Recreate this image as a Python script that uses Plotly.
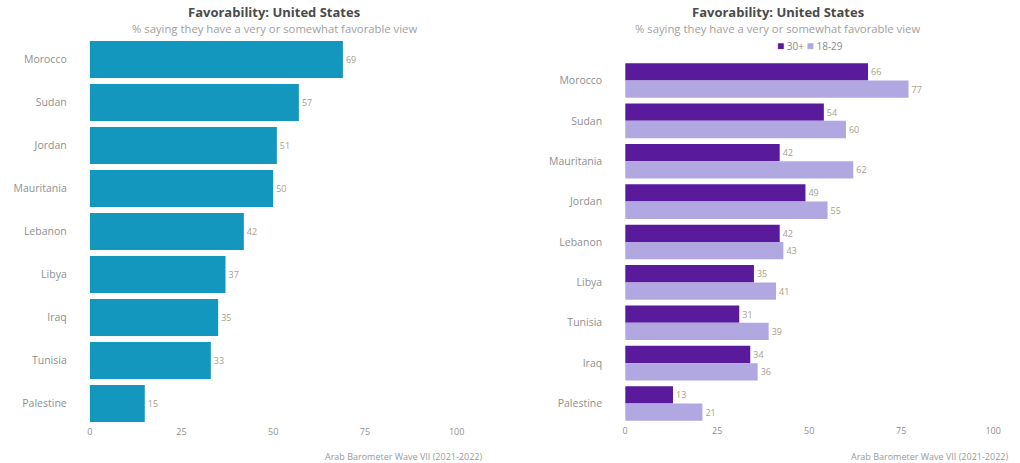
import plotly.graph_objects as go

# Left panel (all ages)
left_countries = ["Morocco", "Sudan", "Jordan", "Mauritania", "Lebanon", "Libya", "Iraq", "Tunisia", "Palestine"]
left_values = [69, 57, 51, 50, 42, 37, 35, 33, 15]

# Right panel (by age)
right_countries = ["Morocco", "Sudan", "Mauritania", "Jordan", "Lebanon", "Libya", "Tunisia", "Iraq", "Palestine"]
age_30_plus = [66, 54, 42, 49, 42, 35, 31, 34, 13]
age_18_29 = [77, 60, 62, 55, 43, 41, 39, 36, 21]

x_ticks = [0, 25, 50, 75, 100]

title_text = "Favorability: United States"
subtitle_text = "% saying they have a very or somewhat favorable view"
source_text = "Arab Barometer Wave VII (2021-2022)"

FONT = "Open Sans"
LABEL_GRAY = "#8f8f8f"
VALUE_COLOR = "#a8a08a"
DARK = "#5A1A9C"
LIGHT = "#B1A7E1"

fig = go.Figure()

fig.add_trace(go.Bar(
    x=left_values, y=left_countries, orientation="h",
    marker=dict(color="#1397BF", line=dict(width=0)),
    text=left_values, textposition="outside",
    textfont=dict(size=9, color=VALUE_COLOR, family=FONT),
    cliponaxis=False, showlegend=False,
    xaxis="x", yaxis="y",
))

fig.add_trace(go.Bar(
    x=age_30_plus, y=right_countries, orientation="h", name="30+",
    marker=dict(color=DARK, line=dict(width=0)),
    text=age_30_plus, textposition="outside",
    textfont=dict(size=9, color=VALUE_COLOR, family=FONT),
    cliponaxis=False, showlegend=False, xaxis="x2", yaxis="y2",
))
fig.add_trace(go.Bar(
    x=age_18_29, y=right_countries, orientation="h", name="18-29",
    marker=dict(color=LIGHT, line=dict(width=0)),
    text=age_18_29, textposition="outside",
    textfont=dict(size=9, color=VALUE_COLOR, family=FONT),
    cliponaxis=False, showlegend=False, xaxis="x2", yaxis="y2",
))

H = 463.0
W = 1020.0

xaxis_common = dict(
    showgrid=False, zeroline=False, showline=False,
    tickfont=dict(size=9, color=LABEL_GRAY, family=FONT),
)
yaxis_common = dict(
    showgrid=False, zeroline=False, showline=False,
    tickfont=dict(size=10.5, color=LABEL_GRAY, family=FONT),
)

fig.update_layout(
    width=1020, height=463,
    margin=dict(l=0, r=0, t=0, b=0),
    paper_bgcolor="white", plot_bgcolor="white",
    barmode="group", bargap=0.14, bargroupgap=0.0,
    font=dict(family=FONT, color=LABEL_GRAY),
    showlegend=False,
    xaxis=dict(domain=[87 / W, 469.7 / W], range=[0, 104], tickvals=x_ticks,
               anchor="y", **xaxis_common),
    yaxis=dict(domain=[1 - 425 / H, 1 - 38 / H], autorange="reversed",
               anchor="x", ticklabelstandoff=22, **yaxis_common),
    xaxis2=dict(domain=[624 / W, 1007.8 / W], range=[0, 104], tickvals=x_ticks,
                anchor="y2", **xaxis_common),
    yaxis2=dict(domain=[1 - 423.7 / H, 1 - 60.3 / H], autorange="reversed",
                anchor="x2", ticklabelstandoff=22, **yaxis_common),
)

annotations = []
for cx, src_x in [(272, 482), (777, 1010)]:
    annotations.append(dict(
        x=cx / W, y=1 - 12 / H, xref="paper", yref="paper",
        text="<b>" + title_text + "</b>", showarrow=False,
        xanchor="center", yanchor="middle",
        font=dict(size=13, color="#4a4a4a", family=FONT),
    ))
    annotations.append(dict(
        x=cx / W, y=1 - 28 / H, xref="paper", yref="paper",
        text=subtitle_text, showarrow=False,
        xanchor="center", yanchor="middle",
        font=dict(size=11.3, color="#a0a0a0", family=FONT),
    ))
    annotations.append(dict(
        x=src_x / W, y=1 - 456 / H, xref="paper", yref="paper",
        text=source_text, showarrow=False,
        xanchor="right", yanchor="middle",
        font=dict(size=9, color="#9a9a9a", family=FONT),
    ))

# Legend for the right panel, drawn as text
legend_text = (
    "<span style='color:" + DARK + ";font-size:12px'>■</span> 30+ "
    "<span style='color:" + LIGHT + ";font-size:12px'>■</span> 18-29"
)
annotations.append(dict(
    x=809 / W, y=1 - 45 / H, xref="paper", yref="paper",
    text=legend_text, showarrow=False, xanchor="center", yanchor="middle",
    font=dict(size=10, color="#8a8a8a", family=FONT),
))
fig.update_layout(annotations=annotations)

fig.write_html("out.html", post_script="document.body.style.margin='0';",
               config={"displayModeBar": False})
